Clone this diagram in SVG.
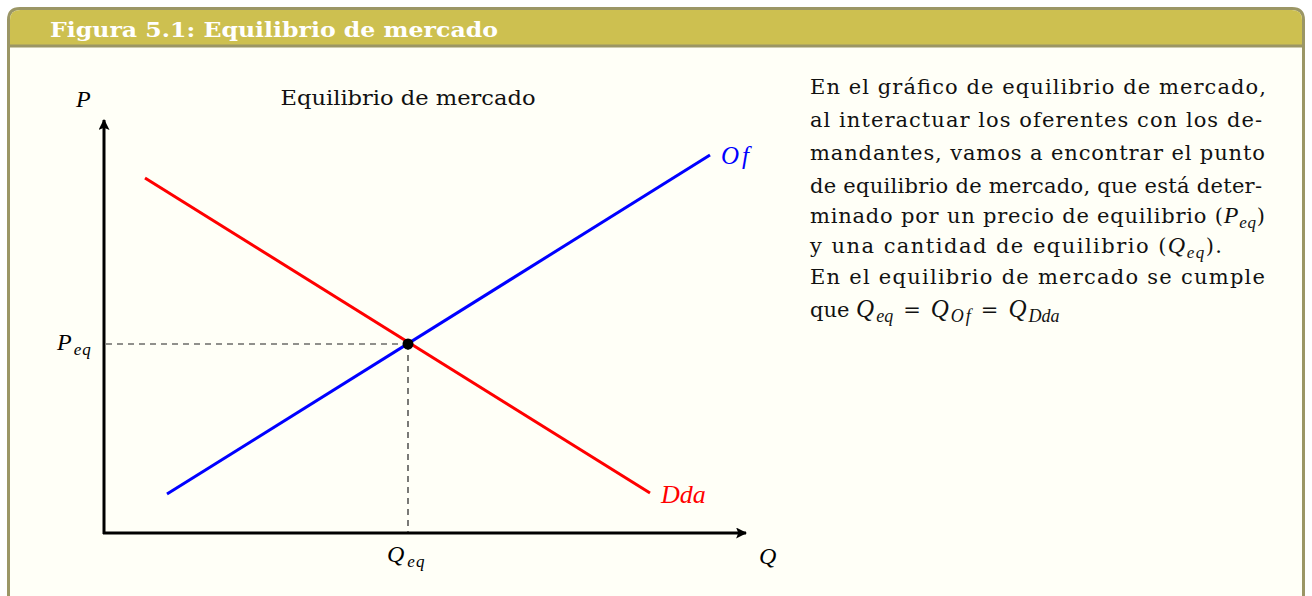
<svg xmlns="http://www.w3.org/2000/svg" width="1312" height="596" viewBox="0 0 1312 596">
<style>
.t{font-family:"DejaVu Serif","Liberation Serif",serif;font-size:21px;fill:#111}
.m{font-family:"Liberation Serif","DejaVu Serif",serif;font-style:italic;font-size:24px}
.mi{font-family:"Liberation Serif","DejaVu Serif",serif;font-style:italic;font-size:24px}
.s{font-size:17px}
.ax{stroke:#000;stroke-width:3;fill:none}
.dash{stroke:#222;stroke-width:1.2;stroke-dasharray:6,5;fill:none}
</style>
<defs>
<marker id="arr" viewBox="0 0 10 10" refX="9" refY="5" markerWidth="11" markerHeight="11" markerUnits="userSpaceOnUse" orient="auto">
<path d="M0,0 L10,5 L0,10 L2,5 z" fill="#000"/>
</marker>
</defs>
<rect width="1312" height="596" fill="#fff"/>
<g id="frame">
<path d="M8.5,610 L8.5,20 Q8.5,8.5 20,8.5 L1292,8.5 Q1303.5,8.5 1303.5,20 L1303.5,610" fill="#fffff7" stroke="#9b9665" stroke-width="3"/>
<path d="M10,46 L10,20 Q10,10 20,10 L1292,10 Q1302,10 1302,20 L1302,46 z" fill="#cdc050"/>
<line x1="10" y1="46" x2="1302" y2="46" stroke="#9b9665" stroke-width="3"/>
<text x="50" y="37" font-family="DejaVu Serif, Liberation Serif, serif" font-weight="bold" font-size="20" fill="#fff" textLength="448" lengthAdjust="spacingAndGlyphs">Figura 5.1: Equilibrio de mercado</text>
</g>
<g id="connectors">
<line class="ax" x1="104" y1="534" x2="104" y2="120" marker-end="url(#arr)"/>
<line class="ax" x1="103" y1="533" x2="746" y2="533" marker-end="url(#arr)"/>
<line class="dash" x1="106" y1="344" x2="408" y2="344"/>
<line class="dash" x1="408" y1="344" x2="408" y2="532"/>
<line x1="145" y1="178" x2="650" y2="493" stroke="#f00" stroke-width="3"/>
<line x1="167" y1="494" x2="710" y2="155" stroke="#00f" stroke-width="3"/>
</g>
<g id="equilibrium">
<circle cx="408" cy="344" r="5.5" fill="#000"/>
</g>
<g id="labels">
<text class="m" x="76" y="107">P</text>
<text class="t" x="408" y="105" text-anchor="middle" textLength="255" lengthAdjust="spacingAndGlyphs">Equilibrio de mercado</text>
<text class="m" x="57" y="350">P<tspan class="s" dx="2" dy="5">e</tspan><tspan class="s" dx="1">q</tspan></text>
<text class="m" x="387" y="562">Q<tspan class="s" dx="3" dy="5">e</tspan><tspan class="s" dx="1">q</tspan></text>
<text class="m" x="759" y="564">Q</text>
<text class="m" x="721" y="164" fill="#00f" style="font-size:25px">O<tspan dx="3">f</tspan></text>
<text class="m" x="661" y="503" fill="#f00" style="font-size:26px">Dda</text>
</g>
<g id="description">
<text class="t" x="810" y="94" textLength="456" lengthAdjust="spacing">En el gráfico de equilibrio de mercado,</text>
<text class="t" x="810" y="127" textLength="452" lengthAdjust="spacing">al interactuar los oferentes con los de-</text>
<text class="t" x="810" y="160" textLength="455" lengthAdjust="spacing">mandantes, vamos a encontrar el punto</text>
<text class="t" x="810" y="193" textLength="452" lengthAdjust="spacing">de equilibrio de mercado, que está deter-</text>
<text class="t" x="810" y="223" textLength="455" lengthAdjust="spacing">minado por un precio de equilibrio (<tspan class="mi">P</tspan><tspan class="mi s" dy="5">eq</tspan><tspan dy="-5">)</tspan></text>
<text class="t" x="810" y="253" textLength="412" lengthAdjust="spacing">y una cantidad de equilibrio (<tspan class="mi">Q</tspan><tspan class="mi s" dy="5">eq</tspan><tspan dy="-5">).</tspan></text>
<text class="t" x="810" y="284" textLength="455" lengthAdjust="spacing">En el equilibrio de mercado se cumple</text>
<text class="t" x="810" y="317">que <tspan class="mi" style="font-size:25px">Q</tspan><tspan class="mi" style="font-size:18px" dx="2" dy="5">eq</tspan><tspan dx="10" dy="-5">=</tspan><tspan class="mi" style="font-size:25px" dx="10">Q</tspan><tspan class="mi" style="font-size:18px" dx="2" dy="5">O</tspan><tspan class="mi" style="font-size:18px" dx="2">f</tspan><tspan dx="10" dy="-5">=</tspan><tspan class="mi" style="font-size:25px" dx="10">Q</tspan><tspan class="mi" style="font-size:18px" dx="2" dy="5">Dda</tspan></text>
</g>
</svg>
